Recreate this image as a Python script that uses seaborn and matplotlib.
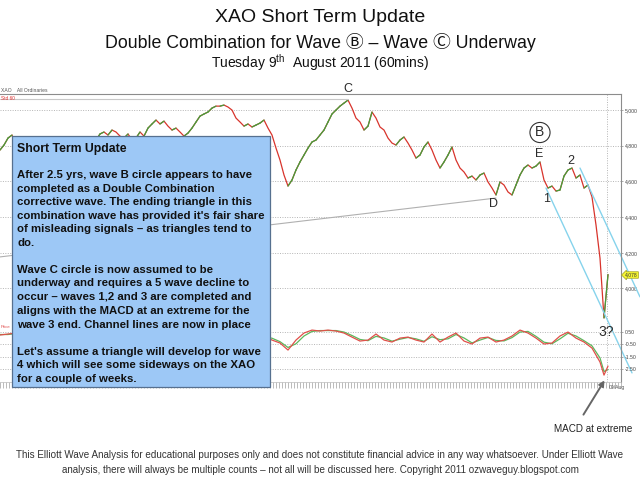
import numpy as np
import pandas as pd
import matplotlib
matplotlib.use("Agg")
import matplotlib.pyplot as plt
import seaborn as sns
from matplotlib.patches import Rectangle
from matplotlib.ticker import MultipleLocator, FuncFormatter

# ---------------- data (60-min XAO bars) ----------------
price_close = [
    4776, 4804, 4843, 4860, 4804, 4776, 4765, 4748, 4765, 4731,
    4720, 4742, 4709, 4731, 4776, 4787, 4765, 4798, 4787, 4810,
    4798, 4832, 4821, 4843, 4832, 4866, 4877, 4860, 4888, 4877,
    4854, 4843, 4866, 4832, 4843, 4877, 4854, 4899, 4922, 4944,
    4922, 4938, 4910, 4888, 4899, 4877, 4854, 4871, 4899, 4933,
    4966, 4978, 4989, 5011, 5022, 5022, 5028, 5017, 5000, 4955,
    4933, 4910, 4922, 4905, 4916, 4927, 4944, 4899, 4860, 4787,
    4720, 4636, 4574, 4608, 4664, 4709, 4748, 4787, 4821, 4832,
    4860, 4888, 4933, 4978, 5000, 5022, 5039, 5056, 5011, 4955,
    4933, 4888, 4910, 4989, 4955, 4905, 4888, 4843, 4815, 4804,
    4832, 4849, 4815, 4776, 4731, 4748, 4793, 4821, 4776, 4720,
    4675, 4709, 4748, 4793, 4720, 4675, 4653, 4619, 4630, 4608,
    4636, 4647, 4597, 4563, 4524, 4597, 4580, 4541, 4524, 4580,
    4636, 4675, 4692, 4675, 4686, 4709, 4608, 4563, 4574, 4546,
    4552, 4630, 4664, 4675, 4619, 4636, 4563, 4580, 4513, 4356,
    4170, 3835, 4078,
]
macd_bars = list(range(0, 152, 2)) + [151, 152]
macd_line = [
    0.26, 0.34, 0.42, 0.18, -0.15, -0.39, 0.01, 0.34, 0.18, -0.15,
    0.09, 0.34, 0.18, 0.50, 0.34, 0.01, 0.26, 0.09, 0.42, 0.66,
    0.34, -0.07, 0.09, -0.15, 0.34, 0.66, 0.58, 0.42, 0.18, 0.01,
    0.18, -0.07, 0.01, 0.18, -0.15, -0.39, -0.96, -0.15, 0.42, 0.66,
    0.58, 0.66, 0.58, 0.42, 0.09, -0.23, -0.15, 0.34, -0.15, -0.31,
    0.01, 0.09, -0.15, -0.31, 0.34, -0.31, 0.09, 0.42, -0.23, -0.47,
    0.01, 0.09, -0.31, -0.15, 0.18, 0.66, 0.42, 0.01, -0.47, -0.39,
    0.18, 0.50, 0.01, -0.31, -0.80, -1.93, -2.99, -2.26,
]
macd_signal = [
    0.30, 0.30, 0.38, 0.30, 0.02, -0.28, -0.12, 0.22, 0.25, -0.02,
    0.00, 0.24, 0.25, 0.38, 0.42, 0.12, 0.15, 0.16, 0.30, 0.56,
    0.48, 0.08, 0.02, -0.05, 0.15, 0.52, 0.62, 0.50, 0.28, 0.08,
    0.12, 0.02, -0.02, 0.10, 0.00, -0.28, -0.75, -0.45, 0.18, 0.55,
    0.62, 0.62, 0.62, 0.50, 0.22, -0.10, -0.20, 0.15, 0.02, -0.24,
    -0.08, 0.06, -0.05, -0.25, 0.12, -0.12, -0.05, 0.30, 0.02, -0.38,
    -0.15, 0.06, -0.18, -0.22, 0.05, 0.50, 0.55, 0.15, -0.32, -0.45,
    -0.05, 0.40, 0.18, -0.20, -0.62, -1.60, -2.70, -2.55,
]
price_ticks = [4000, 4200, 4400, 4600, 4800, 5000]
macd_ticks = [0.5, -0.5, -1.5, -2.5]
last_price_label = "4,078"
date_label = "09/Aug"

# trend / channel lines (bar, price) end points
top_line = ([0, 87], [5062, 5062])
d_line = ([0, 124], [4177, 4507])
channel_lo = ([136.5, 158], [4563, 3527])
channel_hi = ([145, 160], [4675, 3953])

# ---------------- figure ----------------
sns.set_theme(style="white")
plt.rcParams['font.family'] = ['Liberation Sans', 'DejaVu Sans', 'Noto Sans CJK SC']
plt.rcParams['mathtext.fontset'] = 'custom'
plt.rcParams['mathtext.rm'] = 'Liberation Sans'
plt.rcParams['mathtext.it'] = 'Liberation Sans'

W, H = 640, 478
fig = plt.figure(figsize=(6.4, 4.78), dpi=100)
fig.patch.set_facecolor('white')


def fx(px):
    return px / W


def fy(py):
    return 1 - py / H


ax = fig.add_axes([0, fy(382), fx(621), 288 / H])
ax.set_facecolor('white')
ax.set_xlim(0, 155.25)
ax.set_ylim(3476, 5090)

grid_kw = dict(ls=(0, (1, 1.5)), color='#b5b5b5', lw=0.7)
ax.set_yticks(price_ticks)
ax.yaxis.set_major_formatter(FuncFormatter(lambda v, p: f"{int(v):,}"))
ax.grid(axis='y', **grid_kw)
ax.axvline(151.75, **grid_kw)

# price line: red down-moves, green up-moves
df = pd.DataFrame({'bar': np.arange(len(price_close)), 'close': price_close})
sns.lineplot(data=df, x='bar', y='close', ax=ax, color='#d8342c', lw=0.9)
for i in range(len(price_close) - 1):
    if price_close[i + 1] > price_close[i]:
        ax.plot([i, i + 1], [price_close[i], price_close[i + 1]],
                color='#43a03c', lw=0.9)

# trend and channel lines
ax.plot(*top_line, color='#c8c8c8', lw=0.8)
ax.plot(*d_line, color='#b0b0b0', lw=0.8)
for ch in (channel_lo, channel_hi):
    ax.plot(*ch, color='#86d3ec', lw=1.0, clip_on=False)

ax.set_xlabel('')
ax.set_ylabel('')
ax.set_xticks([])
ax.xaxis.set_minor_locator(MultipleLocator(0.75))

# MACD panel (shares the frame)
ax2 = ax.twinx()
ax2.set_ylim(-3.55, 19.8)
ax2.set_yticks(macd_ticks)
ax2.yaxis.set_major_formatter(FuncFormatter(lambda v, p: f"{v:.2f}"))
ax2.grid(axis='y', **grid_kw)
ax2.grid(axis='x', visible=False)
mdf = pd.DataFrame({'bar': macd_bars, 'macd': macd_line, 'signal': macd_signal})
sns.lineplot(data=mdf, x='bar', y='signal', ax=ax2, color='#5cb85c', lw=0.9)
sns.lineplot(data=mdf, x='bar', y='macd', ax=ax2, color='#e0504a', lw=0.9)
ax2.set_ylabel('')
ax2.set_xlabel('')
ax2.tick_params(axis='y', right=True, labelsize=3.7, labelcolor='#444444',
                length=1.5, width=0.5, color='#888888', pad=1)
for s in ax2.spines.values():
    s.set_visible(False)

# price axis ticks on the right (after twinx, which moves them left)
ax.yaxis.set_ticks_position('right')
ax.yaxis.set_label_position('right')
ax.tick_params(axis='y', which='major', right=True, left=False, labelleft=False,
               labelright=True, labelsize=3.7, labelcolor='#444444', length=1.5,
               width=0.5, color='#888888', pad=1)
ax.tick_params(axis='x', which='minor', bottom=True, length=4, width=0.4,
               color='#888888')
ax.spines['left'].set_visible(False)
for s in ['top', 'right']:
    ax.spines[s].set_color('#8c8c8c')
    ax.spines[s].set_linewidth(0.8)
ax.spines['bottom'].set_color('#bbbbbb')
ax.spines['bottom'].set_linewidth(0.5)

# small chart header texts
fig.text(fx(1), fy(91), "XAO    All Ordinaries", fontsize=3.6, color='#555555',
         va='center')
fig.text(fx(1), fy(98), "Std 60", fontsize=3.4, color='#e03030', va='center')
fig.text(fx(1), fy(327), "Price", fontsize=3.2, color='#e05050', va='center')
fig.text(fx(609), fy(388), date_label, fontsize=3.6, color='#555555', va='center')
fig.text(fx(625), fy(275), last_price_label, fontsize=3.6, color='#333333',
         va='center', ha='left',
         bbox=dict(boxstyle='larrow,pad=0.15', fc='#f5f531', ec='#a0a020', lw=0.5))

# wave labels
lab_kw = dict(color='#2b2b2b', ha='center', va='center')
fig.text(fx(348), fy(89), "C", fontsize=9, **lab_kw)
fig.text(fx(540), fy(132.5), "B", fontsize=10, **lab_kw,
         bbox=dict(boxstyle='circle,pad=0.22', fc='none', ec='#333333', lw=0.8))
fig.text(fx(539), fy(154), "E", fontsize=9, **lab_kw)
fig.text(fx(494), fy(204), "D", fontsize=9, **lab_kw)
fig.text(fx(547), fy(199), "1", fontsize=9, **lab_kw)
fig.text(fx(571), fy(161), "2", fontsize=9, **lab_kw)
fig.text(fx(606), fy(332), "3?", fontsize=10, **lab_kw)

# titles
fig.text(0.5, fy(18), "XAO Short Term Update", fontsize=14, ha='center',
         va='center', color='#111111')
fig.text(0.5, fy(42), "Double Combination for Wave \u24b7 \u2013 Wave \u24b8 Underway",
         fontsize=12.8, ha='center', va='center', color='#111111')
fig.text(0.5, fy(63), r"Tuesday 9$^{\mathrm{th}}$  August 2011 (60mins)",
         fontsize=10, ha='center', va='center', color='#111111')

# note box
box = Rectangle((fx(12), fy(387)), fx(258), 251 / H, transform=fig.transFigure,
                fc='#9dc8f6', ec='#56708f', lw=0.9, zorder=5)
fig.add_artist(box)
box_title = "Short Term Update"
box_lines = [
    ("After 2.5 yrs, wave B circle appears to have", 179),
    ("completed as a Double Combination", 192.5),
    ("corrective wave. The ending triangle in this", 206),
    ("combination wave has provided it's fair share", 220),
    ("of misleading signals \u2013 as triangles tend to", 233.5),
    ("do.", 247),
    ("Wave C circle is now assumed to be", 274),
    ("underway and requires a 5 wave decline to", 287.5),
    ("occur \u2013 waves 1,2 and 3 are completed and", 301),
    ("aligns with the MACD at an extreme for the", 315),
    ("wave 3 end. Channel lines are now in place", 328.5),
    ("Let's assume a triangle will develop for wave", 356),
    ("4 which will see some sideways on the XAO", 369.5),
    ("for a couple of weeks.", 383),
]
fig.text(fx(17), fy(152), box_title, fontsize=8.8, fontweight='bold',
         color='#111111', va='baseline', zorder=6)
for txt, yb in box_lines:
    fig.text(fx(17), fy(yb - 1), txt, fontsize=8.2, fontweight='bold',
             color='#111111', va='baseline', zorder=6)

# MACD annotation
fig.text(fx(593), fy(429), "MACD at extreme", fontsize=7.1, ha='center',
         va='center', color='#222222')
ax.annotate('', xy=(606, H - 378), xytext=(582, H - 417),
            xycoords='figure pixels', textcoords='figure pixels',
            arrowprops=dict(arrowstyle='-|>', color='#666666', lw=1.4,
                            mutation_scale=8), annotation_clip=False)

# footer
foot1 = ("This Elliott Wave Analysis for educational purposes only and does not "
         "constitute financial advice in any way whatsoever. Under Elliott Wave")
foot2 = ("analysis, there will always be multiple counts \u2013 not all will be "
         "discussed here. Copyright 2011 ozwaveguy.blogspot.com")
fig.text(0.5, fy(455), foot1, fontsize=7.1, ha='center', va='center', color='#333333')
fig.text(0.5, fy(470), foot2, fontsize=7.1, ha='center', va='center', color='#333333')

fig.savefig("out.png", dpi=100)
